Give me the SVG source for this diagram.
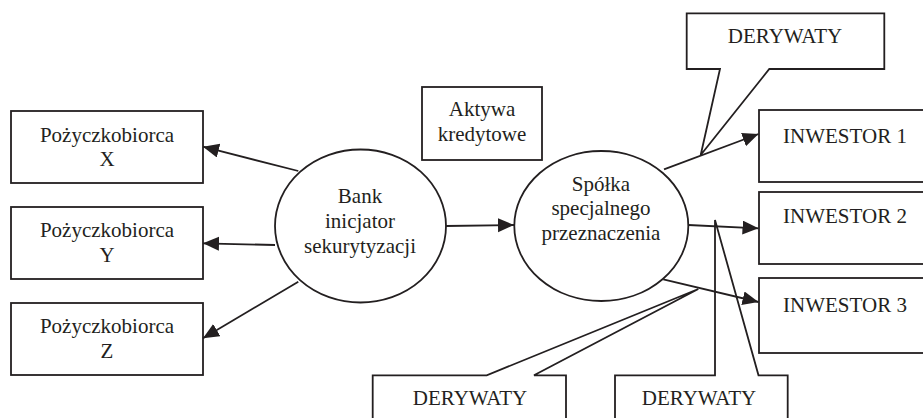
<svg xmlns="http://www.w3.org/2000/svg" width="923" height="418" viewBox="0 0 923 418">
<style>
.box{fill:none;stroke:#231f20;stroke-width:1.8}
.ell{fill:none;stroke:#231f20;stroke-width:1.8}
.con{fill:none;stroke:#231f20;stroke-width:1.8}
.arr{marker-end:url(#ah)}
text{font-family:"Liberation Serif","Times New Roman",serif;font-size:21px;fill:#231f20;text-anchor:middle}
</style>
<defs>
<marker id="ah" markerUnits="userSpaceOnUse" markerWidth="18" markerHeight="16" refX="16" refY="7" orient="auto">
<path d="M0,0 L16,7 L0,14 z" fill="#231f20"/>
</marker>
</defs>
<rect width="923" height="418" fill="#fff"/>
<g id="borrowerX"><rect class="box" x="11" y="111" width="192" height="72"/><text x="107" y="142">Pożyczkobiorca</text><text x="107" y="166">X</text></g>
<g id="borrowerY"><rect class="box" x="11" y="207" width="192" height="72"/><text x="107" y="237">Pożyczkobiorca</text><text x="107" y="262">Y</text></g>
<g id="borrowerZ"><rect class="box" x="11" y="303" width="192" height="72"/><text x="107" y="333">Pożyczkobiorca</text><text x="107" y="358">Z</text></g>
<g id="bank"><ellipse class="ell" cx="360.5" cy="226" rx="85.5" ry="76.5"/><text x="360" y="203">Bank</text><text x="360" y="228">inicjator</text><text x="360" y="253">sekurytyzacji</text></g>
<g id="aktywa"><rect class="box" x="422" y="87" width="120" height="73"/><text x="482" y="116">Aktywa</text><text x="482" y="141">kredytowe</text></g>
<g id="spv"><ellipse class="ell" cx="601.3" cy="226" rx="87" ry="75"/><text x="601" y="191">Spółka</text><text x="601" y="215">specjalnego</text><text x="601" y="240">przeznaczenia</text></g>
<g id="inwestor1"><rect class="box" x="759" y="110" width="172" height="72"/><text x="845" y="143">INWESTOR 1</text></g>
<g id="inwestor2"><rect class="box" x="759" y="192" width="172" height="72"/><text x="845" y="223">INWESTOR 2</text></g>
<g id="inwestor3"><rect class="box" x="759" y="278" width="172" height="75"/><text x="845" y="312">INWESTOR 3</text></g>
<g id="derywatyTop"><path class="box" d="M686.7,13.3 H884.3 V69 H769.3 L700.7,155 L720,69 H686.7 Z"/><text x="785" y="43">DERYWATY</text></g>
<g id="derywatyBottomLeft"><path class="box" d="M372.7,425 V375.3 H486.7 L698.3,289 L534,375.3 H566 V425"/><text x="470" y="405">DERYWATY</text></g>
<g id="derywatyBottomRight"><path class="box" d="M615,425 V375.3 H715 V220 L758.5,375.3 H787.7 V425"/><text x="699" y="405">DERYWATY</text></g>
<g id="connectors">
<line class="con arr" x1="298.3" y1="171" x2="203" y2="146.7"/>
<line class="con arr" x1="275" y1="245" x2="203" y2="243.3"/>
<line class="con arr" x1="298.3" y1="281.7" x2="203" y2="338.3"/>
<line class="con arr" x1="445.7" y1="226" x2="514" y2="225"/>
<line class="con arr" x1="664" y1="169.3" x2="758.5" y2="134"/>
<line class="con arr" x1="688.3" y1="225" x2="758.5" y2="228.3"/>
<line class="con arr" x1="663.3" y1="279.3" x2="758.5" y2="302"/>
</g>
</svg>
